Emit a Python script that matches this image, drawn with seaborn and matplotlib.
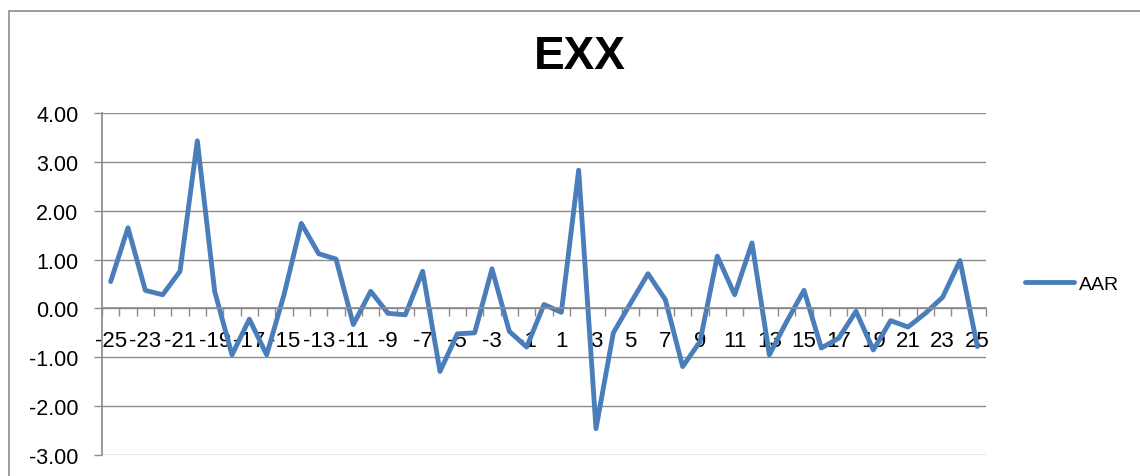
import numpy as np
import pandas as pd
import matplotlib.pyplot as plt
import seaborn as sns
from matplotlib.patches import Rectangle

# Event window days and average abnormal returns
days = list(range(-25, 26))
aar = [0.55, 1.65, 0.37, 0.28, 0.76, 3.43, 0.35, -0.95, -0.22, -0.95,
       0.28, 1.74, 1.12, 1.01, -0.33, 0.35, -0.10, -0.13, 0.76, -1.29,
       -0.52, -0.50, 0.81, -0.47, -0.79, 0.08, -0.08, 2.83, -2.46, -0.50,
       0.11, 0.71, 0.18, -1.19, -0.68, 1.07, 0.28, 1.34, -0.95, -0.27,
       0.37, -0.81, -0.61, -0.06, -0.85, -0.25, -0.38, -0.10, 0.23, 0.98,
       -0.78]
y_ticks = [-3, -2, -1, 0, 1, 2, 3, 4]
x_labels = list(range(-25, 26, 2))

df = pd.DataFrame({'day': days, 'AAR': aar})

sns.set_theme(style='white')
plt.rcParams['font.family'] = ['Liberation Sans', 'DejaVu Sans']
plt.rcParams['text.color'] = 'black'

fig = plt.figure(figsize=(11.4, 4.77), dpi=100)
ax = fig.add_axes([102 / 1140, 1 - 456 / 477, (986 - 102) / 1140, (456 - 114) / 477])

line_color = '#4A7EBB'
grid_color = '#8C8C8C'

sns.lineplot(data=df, x='day', y='AAR', ax=ax, color=line_color, linewidth=3.5,
             label='AAR')

ax.set_xlim(-25.5, 25.5)
ax.set_ylim(-3, 4)
ax.set_yticks(y_ticks)
ax.set_yticklabels([f'{v:.2f}' for v in y_ticks])
for v in y_ticks:
    ax.axhline(v, color=grid_color, linewidth=1.0, zorder=0)

# category boundaries get tick marks, labels sit at category centres
ax.set_xticks(np.arange(-25.5, 26, 1))
ax.set_xticklabels([])
ax.set_xticks(x_labels, minor=True)
ax.set_xticklabels([str(v) for v in x_labels], minor=True)
ax.tick_params(axis='x', which='major', direction='out', length=6, width=1,
               color=grid_color, bottom=True)
ax.tick_params(axis='x', which='minor', length=0, pad=15.5, bottom=True,
               labelsize=16, labelcolor='black')
ax.tick_params(axis='y', direction='out', length=6, width=1, color=grid_color,
               left=True, pad=11, labelsize=15.5, labelcolor='black')

ax.spines['bottom'].set_position(('data', 0))
ax.spines['bottom'].set_color(grid_color)
ax.spines['left'].set_color(grid_color)
ax.spines['top'].set_visible(False)
ax.spines['right'].set_visible(False)
ax.set_xlabel('')
ax.set_ylabel('')

fig.text(580 / 1140, 1 - 57 / 477, 'EXX', ha='center', va='center',
         fontsize=33, fontweight='bold', color='black')

ax.legend(loc='center left', bbox_to_anchor=(1025 / 1140, 1 - 285 / 477),
          bbox_transform=fig.transFigure, frameon=False, fontsize=14,
          handlelength=2.5, handletextpad=0.25, borderpad=0, borderaxespad=0,
          labelcolor='black')

# outer chart-area border
fig.patches.append(Rectangle((9 / 1140, -0.1), 1.2, 1 - 12 / 477 + 0.1,
                             transform=fig.transFigure, fill=False,
                             edgecolor='#8C8C8C', linewidth=1.2))

fig.savefig('out.png', dpi=100)
